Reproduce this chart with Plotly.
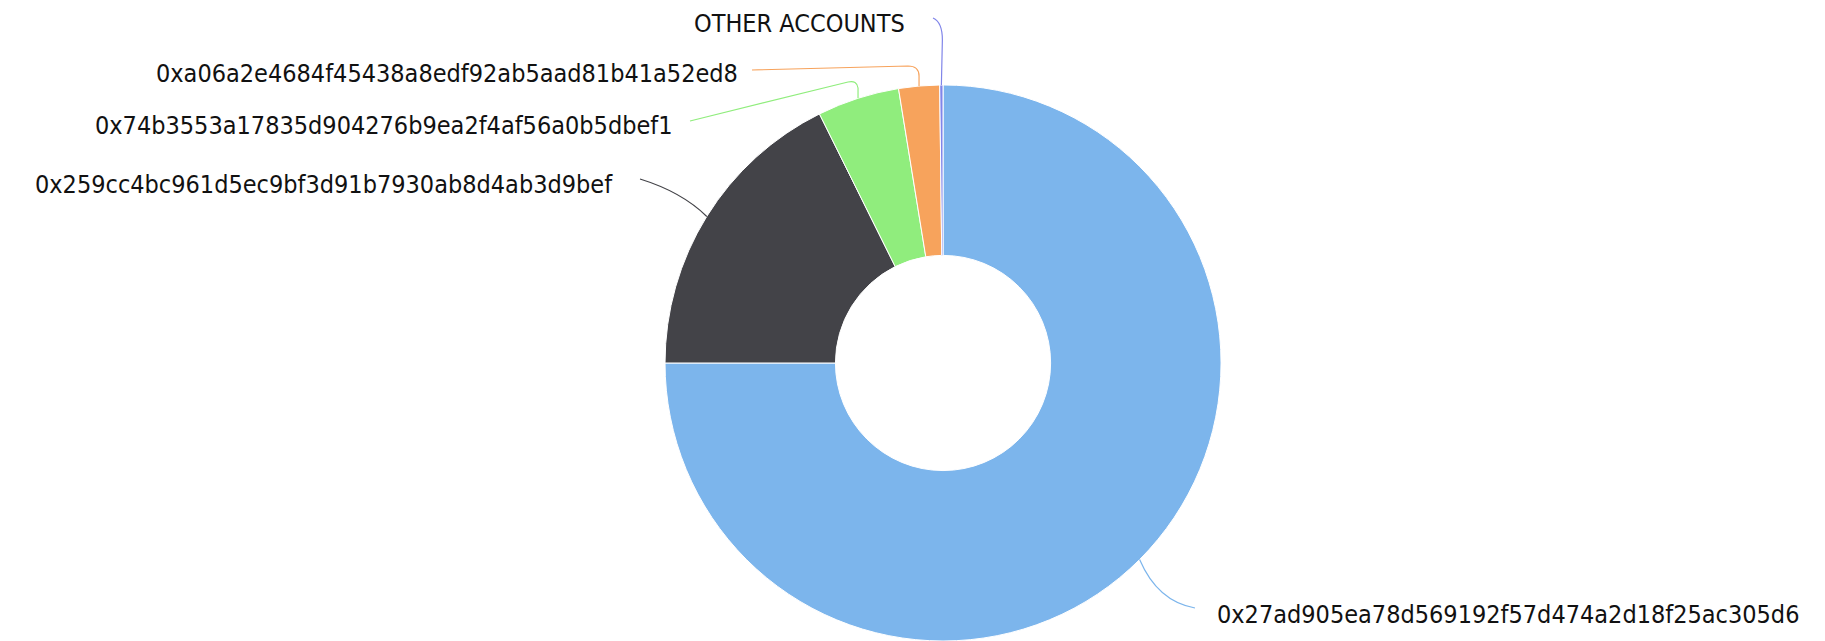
import math
import plotly.graph_objects as go

# ---- data ----
accounts = [
    "0x27ad905ea78d569192f57d474a2d18f25ac305d6",
    "0x259cc4bc961d5ec9bf3d91b7930ab8d4ab3d9bef",
    "0x74b3553a17835d904276b9ea2f4af56a0b5dbef1",
    "0xa06a2e4684f45438a8edf92ab5aad81b41a52ed8",
    "OTHER ACCOUNTS",
]
shares = [75.0, 17.67, 4.77, 2.37, 0.19]
colors = ["#7cb5ec", "#434348", "#90ed7d", "#f7a35c", "#8085e9"]

# ---- layout constants (screen pixels; page body has an 8px margin) ----
OFF = 8
W, H = 1817, 633
dom_x = [0.3146, 0.7146]
dom_y = [0.0, 0.8784]
CX = (dom_x[0] + dom_x[1]) / 2 * W + OFF
CY = H - (dom_y[0] + dom_y[1]) / 2 * H + OFF
R = min((dom_x[1] - dom_x[0]) * W, (dom_y[1] - dom_y[0]) * H) / 2


def px(x):
    return (x - OFF) / W


def py(y):
    return 1 - (y - OFF) / H


# mid-angle edge points of each slice
total = sum(shares)
edge = []
cum = 0.0
for v in shares:
    th = 2 * math.pi * (cum + v / 2) / total
    edge.append((CX + R * math.sin(th), CY - R * math.cos(th)))
    cum += v

# label anchor positions (screen pixels) and alignment
label_pos = [
    (1215, 614, "left"),
    (615, 184, "right"),
    (675, 125, "right"),
    (740, 73, "right"),
    (907, 24, "right"),
]

fig = go.Figure(go.Pie(
    labels=accounts,
    values=shares,
    sort=False,
    direction="clockwise",
    rotation=0,
    hole=0.387,
    marker=dict(colors=colors, line=dict(color="white", width=1)),
    textinfo="none",
    domain=dict(x=dom_x, y=dom_y),
    showlegend=False,
))


def P(x, y):
    return f"{px(x):.5f},{py(y):.5f}"


ex = edge
paths = [
    # blue
    f"M {P(*ex[0])} Q {P(ex[0][0] + 18, ex[0][1] + 42)} {P(1195, 608)}",
    # dark
    f"M {P(640, 179)} Q {P(682, 192)} {P(*ex[1])}",
    # green
    f"M {P(690, 121)} L {P(ex[2][0] - 10, 82)} Q {P(ex[2][0] - 1, 80)} {P(ex[2][0], 88)} L {P(*ex[2])}",
    # orange
    f"M {P(752, 70)} L {P(ex[3][0] - 11, 66)} Q {P(ex[3][0], 66)} {P(ex[3][0], 76)} L {P(*ex[3])}",
    # other
    f"M {P(933, 18)} Q {P(ex[4][0] + 1, 22)} {P(ex[4][0] + 1, 40)} L {P(*ex[4])}",
]

shapes = []
for p, c in zip(paths, colors):
    shapes.append(dict(type="path", xref="paper", yref="paper", path=p,
                       line=dict(color=c, width=1.2)))

annotations = []
for name, (lx, ly, al) in zip(accounts, label_pos):
    annotations.append(dict(
        x=px(lx), y=py(ly), xref="paper", yref="paper",
        text=name, showarrow=False,
        xanchor=al, yanchor="middle",
        font=dict(family="DejaVu Sans Condensed, DejaVu Sans", size=25, color="#111111"),
    ))

fig.update_layout(
    width=W, height=H,
    margin=dict(l=0, r=0, t=0, b=0),
    paper_bgcolor="white",
    plot_bgcolor="white",
    shapes=shapes,
    annotations=annotations,
)

fig.write_html("out.html")
